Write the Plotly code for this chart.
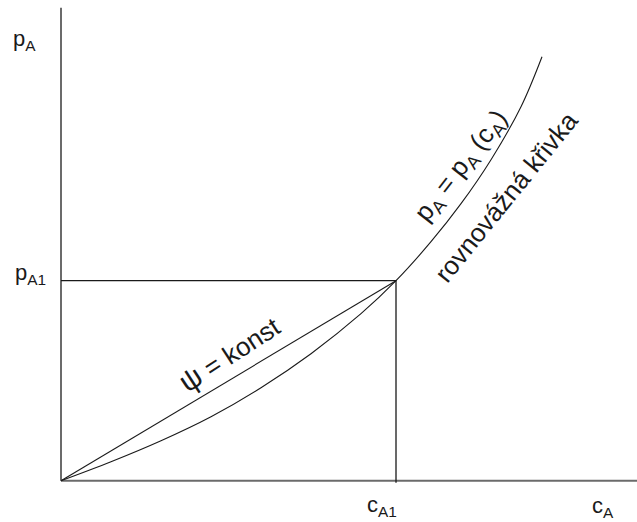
import plotly.graph_objects as go

# Equilibrium curve p_A = p_A(c_A), read along its length
c_curve = [0, 0.5, 1.0, 1.5, 2.0, 2.5, 3.0, 3.35, 3.7, 4.0, 4.3, 4.6, 4.81]
p_curve = [0, 0.19, 0.40, 0.64, 0.93, 1.27, 1.67, 2.00, 2.39, 2.77, 3.21, 3.74, 4.24]

# Working point
c_A1 = 3.35
p_A1 = 2.00

# Axis extents
c_axis_end = 5.76
p_axis_end = 4.73

FONT = "Liberation Sans"
BLACK = "#1a1a1a"
AXIS = "#6b6b6b"

fig = go.Figure()

# axes
fig.add_trace(go.Scatter(x=[0, 0], y=[p_axis_end, 0], mode="lines",
                         line=dict(color=AXIS, width=2), hoverinfo="skip"))
fig.add_trace(go.Scatter(x=[0, c_axis_end], y=[0, 0], mode="lines",
                         line=dict(color=AXIS, width=2), hoverinfo="skip"))

# guide lines to the working point
fig.add_trace(go.Scatter(x=[0, c_A1, c_A1], y=[p_A1, p_A1, -0.02], mode="lines",
                         line=dict(color=BLACK, width=1.3), hoverinfo="skip"))

# operating line psi = const
fig.add_trace(go.Scatter(x=[0, c_A1], y=[0, p_A1], mode="lines",
                         line=dict(color=BLACK, width=1.1), hoverinfo="skip"))

# equilibrium curve
fig.add_trace(go.Scatter(x=c_curve, y=p_curve, mode="lines", line_shape="spline",
                         line=dict(color=BLACK, width=1.1), hoverinfo="skip"))

def label(text, x, y, size=22, angle=0, xanchor="center", yanchor="middle",
          xshift=0, yshift=0):
    fig.add_annotation(x=x, y=y, text=text, showarrow=False, textangle=angle,
                       xanchor=xanchor, yanchor=yanchor, xshift=xshift, yshift=yshift,
                       font=dict(family=FONT, size=size, color=BLACK))

label("p<sub>A</sub>", 0, p_axis_end, xanchor="left", xshift=-50, yshift=-32)
label("p<sub>A1</sub>", 0, p_A1, xanchor="right", xshift=-13, yshift=7)
label("c<sub>A1</sub>", c_A1, 0, xanchor="right", yanchor="top", xshift=3, yshift=-9)
label("c<sub>A</sub>", c_axis_end, 0, xanchor="right", yanchor="top", xshift=-21, yshift=-10)

label("<span style='font-size:30px'>ψ</span> = konst", 1.68, 1.277, size=26, angle=-33)
label("p<sub>A</sub> = p<sub>A</sub> (c<sub>A</sub>)", 4.00, 3.147, size=26, angle=-52)
label("rovnovážná křivka", 4.45, 2.84, size=26, angle=-51)

fig.update_layout(
    width=637, height=522,
    margin=dict(l=0, r=0, t=0, b=0),
    paper_bgcolor="white", plot_bgcolor="white",
    showlegend=False,
    xaxis=dict(range=[-0.61, 5.76], visible=False, fixedrange=True),
    yaxis=dict(range=[-0.413, 4.807], visible=False, fixedrange=True),
)

fig.write_html("out.html")
